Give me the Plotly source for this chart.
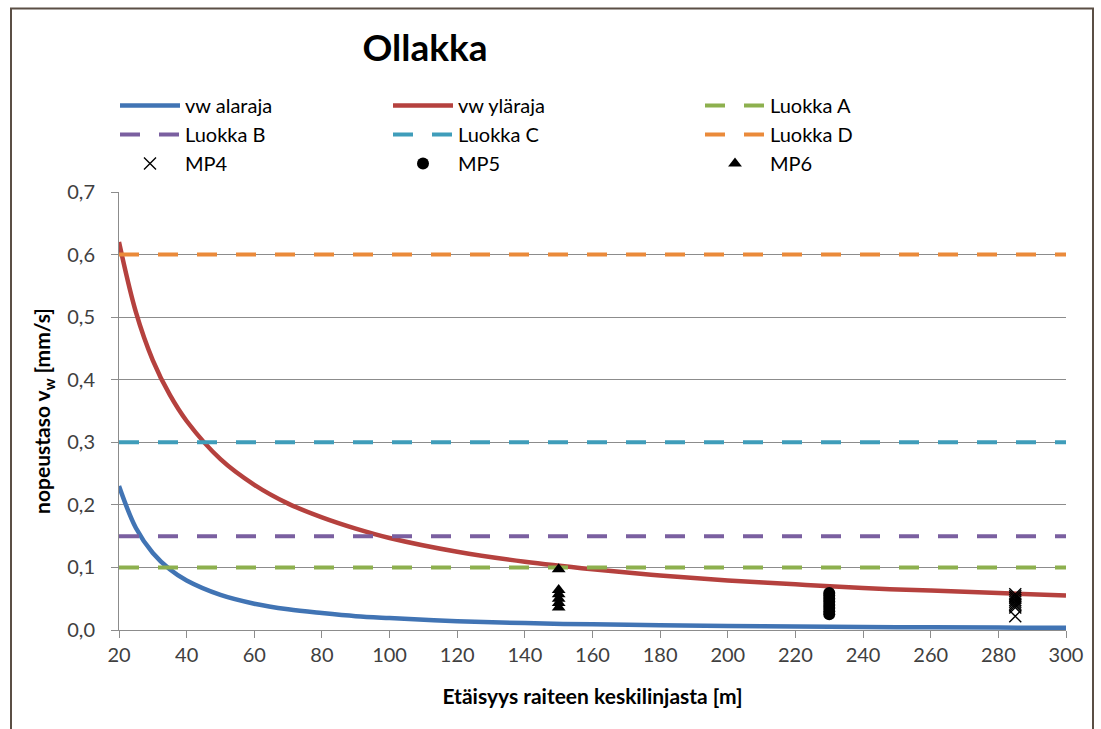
import plotly.graph_objects as go

# ---- data ----
x_curve = [20, 25, 30, 35, 40, 50, 60, 70, 80, 90, 100, 120, 140, 160, 180, 200, 220, 240, 260, 280, 300]
vw_lower = [0.230, 0.163, 0.123, 0.097, 0.079, 0.056, 0.042, 0.033, 0.027, 0.022, 0.019, 0.014, 0.011,
            0.009, 0.0076, 0.0065, 0.0056, 0.0049, 0.0043, 0.0038, 0.0035]
vw_upper = [0.620, 0.508, 0.431, 0.376, 0.334, 0.273, 0.232, 0.202, 0.180, 0.162, 0.147, 0.125, 0.109,
            0.097, 0.087, 0.079, 0.073, 0.067, 0.063, 0.059, 0.055]

x_class = [20, 300]
luokka_A = [0.10, 0.10]
luokka_B = [0.15, 0.15]
luokka_C = [0.30, 0.30]
luokka_D = [0.60, 0.60]

mp4_x = [285] * 9
mp4_y = [0.057, 0.054, 0.051, 0.048, 0.045, 0.042, 0.039, 0.036, 0.022]
mp5_x = [230] * 8
mp5_y = [0.059, 0.055, 0.050, 0.045, 0.040, 0.035, 0.030, 0.025]
mp6_x = [150] * 6
mp6_y = [0.097, 0.064, 0.057, 0.050, 0.043, 0.036]

x_ticks = list(range(20, 301, 20))
y_ticks = [0.0, 0.1, 0.2, 0.3, 0.4, 0.5, 0.6, 0.7]

FONT = "Lato"
TXT = "#000000"

fig = go.Figure()

def line_trace(x, y, name, color, legend, dash=None, width=4.5):
    fig.add_trace(go.Scatter(
        x=x, y=y, mode="lines", name=name, legend=legend,
        line=dict(color=color, width=width, dash=dash, shape="spline" if dash is None else "linear"),
        hoverinfo="skip"))

line_trace(x_curve, vw_lower, "vw alaraja", "#4174B4", "legend")
line_trace(x_curve, vw_upper, "vw yläraja", "#B5413E", "legend2")
line_trace(x_class, luokka_A, "Luokka A", "#8DB04E", "legend3", dash="20px,19px", width=4)
line_trace(x_class, luokka_B, "Luokka B", "#7A5FA0", "legend", dash="20px,19px", width=4)
line_trace(x_class, luokka_C, "Luokka C", "#3F9DBA", "legend2", dash="20px,19px", width=4)
line_trace(x_class, luokka_D, "Luokka D", "#EA8A3A", "legend3", dash="20px,19px", width=4)

fig.add_trace(go.Scatter(x=mp4_x, y=mp4_y, mode="markers", name="MP4", legend="legend",
                         marker=dict(symbol="x-thin", size=12, color="black",
                                     line=dict(width=1.4, color="black"))))
fig.add_trace(go.Scatter(x=mp5_x, y=mp5_y, mode="markers", name="MP5", legend="legend2",
                         marker=dict(symbol="circle", size=12, color="black")))
fig.add_trace(go.Scatter(x=mp6_x, y=mp6_y, mode="markers", name="MP6", legend="legend3",
                         marker=dict(symbol="triangle-up", size=12, color="black")))

L, R, T, B = 119, 35, 192, 99
W, H = 1101, 729
pw, ph = W - L - R, H - T - B

def px(xp):
    return (xp - L) / pw

def py(yp):
    return (H - B - yp) / ph

legend_common = dict(font=dict(family=FONT, size=20, color=TXT), bgcolor="rgba(0,0,0,0)",
                     orientation="v", xanchor="left", yanchor="top", traceorder="normal",
                     itemwidth=60, tracegroupgap=0)

fig.update_layout(
    width=W, height=H,
    margin=dict(l=L, r=R, t=T, b=B),
    paper_bgcolor="white", plot_bgcolor="white",
    separators=", ",
    showlegend=True,
    title=dict(text="<b>Ollakka</b>", x=425 / W, xanchor="center", y=1 - 48 / H, yanchor="middle",
               font=dict(family=FONT, size=37, color=TXT)),
    legend=dict(x=px(115), y=py(86), **legend_common),
    legend2=dict(x=px(388), y=py(86), **legend_common),
    legend3=dict(x=px(700), y=py(86), **legend_common),
    xaxis=dict(range=[20, 300], tickvals=x_ticks, ticktext=[str(v) for v in x_ticks],
               showgrid=False, zeroline=False, showline=True, linecolor="#8c8c8c", linewidth=1,
               ticks="outside", ticklen=7, tickcolor="#8c8c8c",
               tickfont=dict(family=FONT, size=20, color="#404040"),
               title=dict(text="<b>Etäisyys raiteen keskilinjasta [m]</b>", standoff=24,
                          font=dict(family=FONT, size=21, color=TXT))),
    yaxis=dict(range=[0, 0.7], tickvals=y_ticks, tickformat=".1f",
               showgrid=True, gridcolor="#8c8c8c", gridwidth=1, zeroline=False,
               showline=True, linecolor="#8c8c8c", linewidth=1,
               ticks="outside", ticklen=7, tickcolor="#8c8c8c", ticklabelstandoff=12,
               tickfont=dict(family=FONT, size=20, color="#404040"),
               title=dict(text="<b>nopeustaso v<sub>w</sub> [mm/s]</b>", standoff=10,
                          font=dict(family=FONT, size=21, color=TXT))),
    shapes=[dict(type="rect", xref="paper", yref="paper",
                 x0=px(11), x1=px(1093), y0=py(760), y1=py(8.5),
                 line=dict(color="#5B4F45", width=2), fillcolor="rgba(0,0,0,0)", layer="below")],
)

fig.write_html("out.html")
